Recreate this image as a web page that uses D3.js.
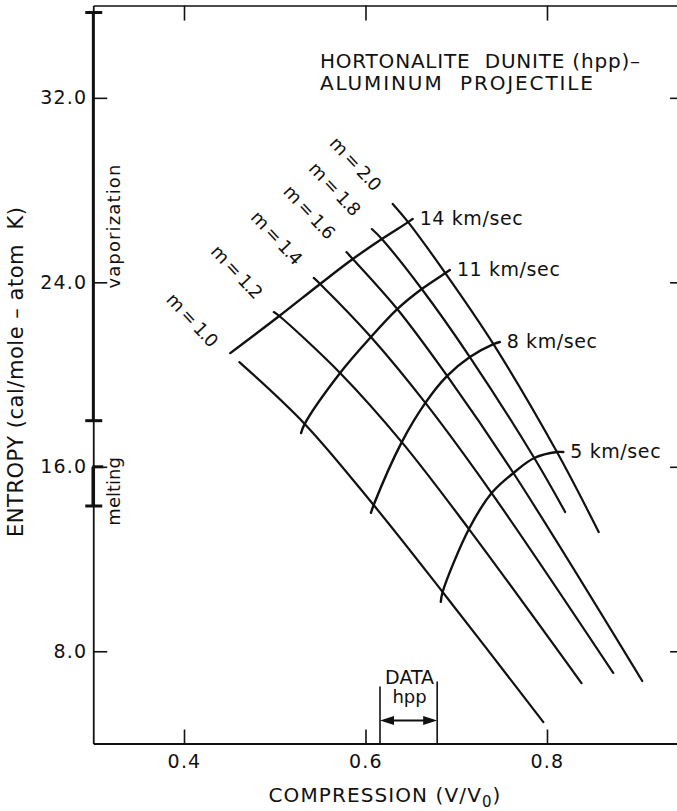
<!DOCTYPE html>
<html>
<head>
<meta charset="utf-8">
<script src="https://cdn.jsdelivr.net/npm/d3@7"></script>
<style>
  html, body { margin: 0; padding: 0; background: #fff; }
  svg { display: block; }
  text { font-family: "DejaVu Sans", "Liberation Sans", sans-serif; fill: #111; }
</style>
</head>
<body>
<svg id="chart" width="677" height="811"></svg>
<script>
// Shock entropy vs. compression for hortonalite dunite (hpp) struck by an aluminum projectile.
// Lines of constant m run down to the right; impact-velocity curves cross them.

const mValues = [1.0, 1.2, 1.4, 1.6, 1.8, 2.0];
const velocities = [14, 11, 8, 5]; // km/sec

// [V/V0, entropy] where each velocity curve crosses each m line (null = no crossing)
const cross14 = [null, [0.505, 22.54], [0.550, 23.93], [0.586, 25.01], [0.618, 25.88], [0.647, 26.61]];
const cross11 = [[0.533, 17.86], [0.572, 20.07], [0.606, 21.63], [0.635, 22.84], [0.662, 23.71], [0.688, 24.40]];
const cross8  = [[0.609, 14.34], [0.640, 17.07], [0.666, 18.77], [0.690, 19.94], [0.715, 20.76], [0.741, 21.32]];
const cross5  = [[0.685, 10.57], [0.714, 13.30], [0.739, 14.86], [0.763, 15.73], [0.786, 16.38], [0.811, 16.64]];

// ends of the m lines
const mLineStart = [[0.461, 20.54], [0.499, 22.71], [0.543, 24.19], [0.579, 25.31], [0.607, 26.31], [0.630, 27.40]];
const mLineEnd   = [[0.796, 4.93], [0.838, 6.62], [0.873, 7.06], [0.905, 6.71], [0.820, 14.04], [0.857, 13.17]];

// ends of the velocity curves (same order as velocities)
const velStart = [[0.451, 20.93], [0.529, 17.46], [0.606, 14.00], [0.683, 10.14]];
const velEnd   = [[0.652, 26.75], [0.693, 24.53], [0.748, 21.41], [0.818, 16.64]];

const xTicks = [0.4, 0.6, 0.8];
const yTicks = [8, 16, 24, 32];

// entropy ranges marked on the left axis
const vaporization = [18.0, 35.7];
const melting = [14.3, 16.0];

// compression range covered by hpp data
const hppData = [0.616, 0.679];

const crossings = [cross14, cross11, cross8, cross5];

const svg = d3.select("#chart");
const ink = "#111";

const x = d3.scaleLinear().domain([0.3, 0.95]).range([93.25, 683.1]);
const y = d3.scaleLinear().domain([4, 36]).range([743.5, 5.6]);

const x0 = x.range()[0], x1 = x.range()[1];
const y0 = y.range()[0], y1 = y.range()[1];

// ---- axes ----
const fmt1 = d3.format(".1f");

const gLeft = svg.append("g").attr("transform", `translate(${x0},0)`)
  .call(d3.axisLeft(y).tickValues(yTicks).tickFormat(fmt1).tickSizeInner(-14).tickSizeOuter(0).tickPadding(6));
const gBottom = svg.append("g").attr("transform", `translate(0,${y0})`)
  .call(d3.axisBottom(x).tickValues(xTicks).tickFormat(fmt1).tickSizeInner(-14).tickSizeOuter(0).tickPadding(11));
const gTop = svg.append("g").attr("transform", `translate(0,${y1})`)
  .call(d3.axisTop(x).tickValues(xTicks).tickFormat("").tickSizeInner(-15).tickSizeOuter(0));
const gRight = svg.append("g").attr("transform", `translate(${x1},0)`)
  .call(d3.axisRight(y).tickValues(yTicks).tickFormat("").tickSizeInner(-13).tickSizeOuter(0));

[gLeft, gBottom, gTop, gRight].forEach(g => {
  g.selectAll("path.domain").attr("stroke", ink);
  g.selectAll(".tick line").attr("stroke", ink).attr("stroke-width", 1.6);
  g.selectAll(".tick text")
    .attr("fill", ink)
    .style("font-family", '"DejaVu Sans", sans-serif')
    .style("font-size", "19px")
    .style("letter-spacing", "1.2px");
});
gLeft.select("path.domain").attr("stroke-width", 1.8);
gBottom.select("path.domain").attr("stroke-width", 2.2);
gTop.select("path.domain").attr("stroke-width", 1.5);
gRight.select("path.domain").attr("stroke-width", 1.5);

// thicker left-axis segments and end bars for the vaporization / melting ranges
svg.append("line")
  .attr("x1", x0).attr("x2", x0)
  .attr("y1", y(vaporization[1])).attr("y2", y(vaporization[0]))
  .attr("stroke", ink).attr("stroke-width", 2.8);
svg.append("line")
  .attr("x1", x0).attr("x2", x0)
  .attr("y1", y(melting[1])).attr("y2", y(melting[0]))
  .attr("stroke", ink).attr("stroke-width", 3.6);

[vaporization[1], vaporization[0], melting[0]].forEach(v => {
  svg.append("line")
    .attr("x1", x0 - 8).attr("x2", x0 + 9)
    .attr("y1", y(v)).attr("y2", y(v))
    .attr("stroke", ink).attr("stroke-width", 3);
});
svg.append("line")
  .attr("x1", x0 - 1).attr("x2", x0 + 10)
  .attr("y1", y(melting[1])).attr("y2", y(melting[1]))
  .attr("stroke", ink).attr("stroke-width", 3);

svg.append("text")
  .attr("transform", `translate(${x0 + 27},${(y(vaporization[0]) + y(vaporization[1])) / 2 + 10}) rotate(-90)`)
  .attr("text-anchor", "middle")
  .style("font-size", "18px")
  .attr("textLength", 124).attr("lengthAdjust", "spacing")
  .text("vaporization");

svg.append("text")
  .attr("transform", `translate(${x0 + 27},${(y(melting[0]) + y(melting[1])) / 2 + 5}) rotate(-90)`)
  .attr("text-anchor", "middle")
  .style("font-size", "18px")
  .text("melting");

// ---- axis titles ----
const xTitle = svg.append("text")
  .attr("x", 385).attr("y", 802)
  .attr("text-anchor", "middle")
  .style("font-size", "20px")
  .style("letter-spacing", "1.1px");
xTitle.append("tspan").text("COMPRESSION (V/V");
xTitle.append("tspan").attr("dy", 5).style("font-size", "15px").text("0");
xTitle.append("tspan").attr("dy", -5).text(")");

svg.append("text")
  .attr("transform", `translate(23,372) rotate(-90)`)
  .attr("text-anchor", "middle")
  .style("font-size", "21px")
  .style("white-space", "pre")
  .attr("textLength", 330).attr("lengthAdjust", "spacing")
  .text("ENTROPY (cal/mole – atom  K)");

// ---- chart title ----
svg.append("text")
  .attr("x", 320).attr("y", 68)
  .style("font-size", "20px")
  .style("white-space", "pre")
  .attr("textLength", 320).attr("lengthAdjust", "spacing")
  .text("HORTONALITE  DUNITE (hpp)–");
svg.append("text")
  .attr("x", 320).attr("y", 90)
  .style("font-size", "20px")
  .style("white-space", "pre")
  .attr("textLength", 273).attr("lengthAdjust", "spacing")
  .text("ALUMINUM  PROJECTILE");

// ---- curves ----
const line = d3.line()
  .x(d => x(d[0]))
  .y(d => y(d[1]))
  .curve(d3.curveCatmullRom.alpha(0.5));

const mLines = mValues.map((m, i) => ({
  m,
  pts: [mLineStart[i], ...crossings.map(c => c[i]), mLineEnd[i]].filter(Boolean)
}));
const velCurves = velocities.map((v, j) => ({
  v,
  pts: [velStart[j], ...crossings[j].filter(Boolean), velEnd[j]]
}));

svg.append("g")
  .selectAll("path")
  .data(mLines)
  .join("path")
  .attr("d", d => line(d.pts))
  .attr("fill", "none")
  .attr("stroke", ink)
  .attr("stroke-width", 2.2)
  .attr("stroke-linecap", "round");

svg.append("g")
  .selectAll("path")
  .data(velCurves)
  .join("path")
  .attr("d", d => line(d.pts))
  .attr("fill", "none")
  .attr("stroke", ink)
  .attr("stroke-width", 2.4)
  .attr("stroke-linecap", "round");

// m labels, set diagonally above each line's upper end (the lowest one sits a little further out)
svg.append("g")
  .selectAll("text")
  .data(mLines)
  .join("text")
  .attr("transform", (d, i) => {
    const off = i === 0 ? [-47, -42] : [-37, -40];
    return `translate(${x(d.pts[0][0]) + off[0]},${y(d.pts[0][1]) + off[1]}) rotate(47)`;
  })
  .attr("text-anchor", "middle")
  .attr("dy", "0.35em")
  .style("font-size", "18px")
  .style("white-space", "pre")
  .attr("textLength", 66).attr("lengthAdjust", "spacing")
  .text(d => `m = ${fmt1(d.m)}`);

// velocity labels at the upper ends of the velocity curves
svg.append("g")
  .selectAll("text")
  .data(velCurves)
  .join("text")
  .attr("x", d => x(d.pts[d.pts.length - 1][0]) + 7)
  .attr("y", d => y(d.pts[d.pts.length - 1][1]) - 1)
  .attr("dy", "0.36em")
  .style("font-size", "19px")
  .style("letter-spacing", "0.6px")
  .text(d => `${d.v} km/sec`);

// ---- hpp data range bracket ----
const dl = x(hppData[0]), dr = x(hppData[1]);
svg.append("line").attr("x1", dl).attr("x2", dl).attr("y1", y0 - 57).attr("y2", y0)
  .attr("stroke", ink).attr("stroke-width", 1.6);
svg.append("line").attr("x1", dr).attr("x2", dr).attr("y1", y0 - 62).attr("y2", y0)
  .attr("stroke", ink).attr("stroke-width", 1.6);
const ay = y0 - 23;
svg.append("line").attr("x1", dl + 4).attr("x2", dr - 4).attr("y1", ay).attr("y2", ay)
  .attr("stroke", ink).attr("stroke-width", 2);
svg.append("path")
  .attr("d", `M${dl},${ay} L${dl + 14},${ay - 4.5} L${dl + 14},${ay + 4.5} Z M${dr},${ay} L${dr - 14},${ay - 4.5} L${dr - 14},${ay + 4.5} Z`)
  .attr("fill", ink);
svg.append("text")
  .attr("x", (dl + dr) / 2 + 1).attr("y", y0 - 60)
  .attr("text-anchor", "middle")
  .style("font-size", "19px")
  .text("DATA");
svg.append("text")
  .attr("x", (dl + dr) / 2 + 1).attr("y", y0 - 41)
  .attr("text-anchor", "middle")
  .style("font-size", "18px")
  .text("hpp");
</script>
</body>
</html>
